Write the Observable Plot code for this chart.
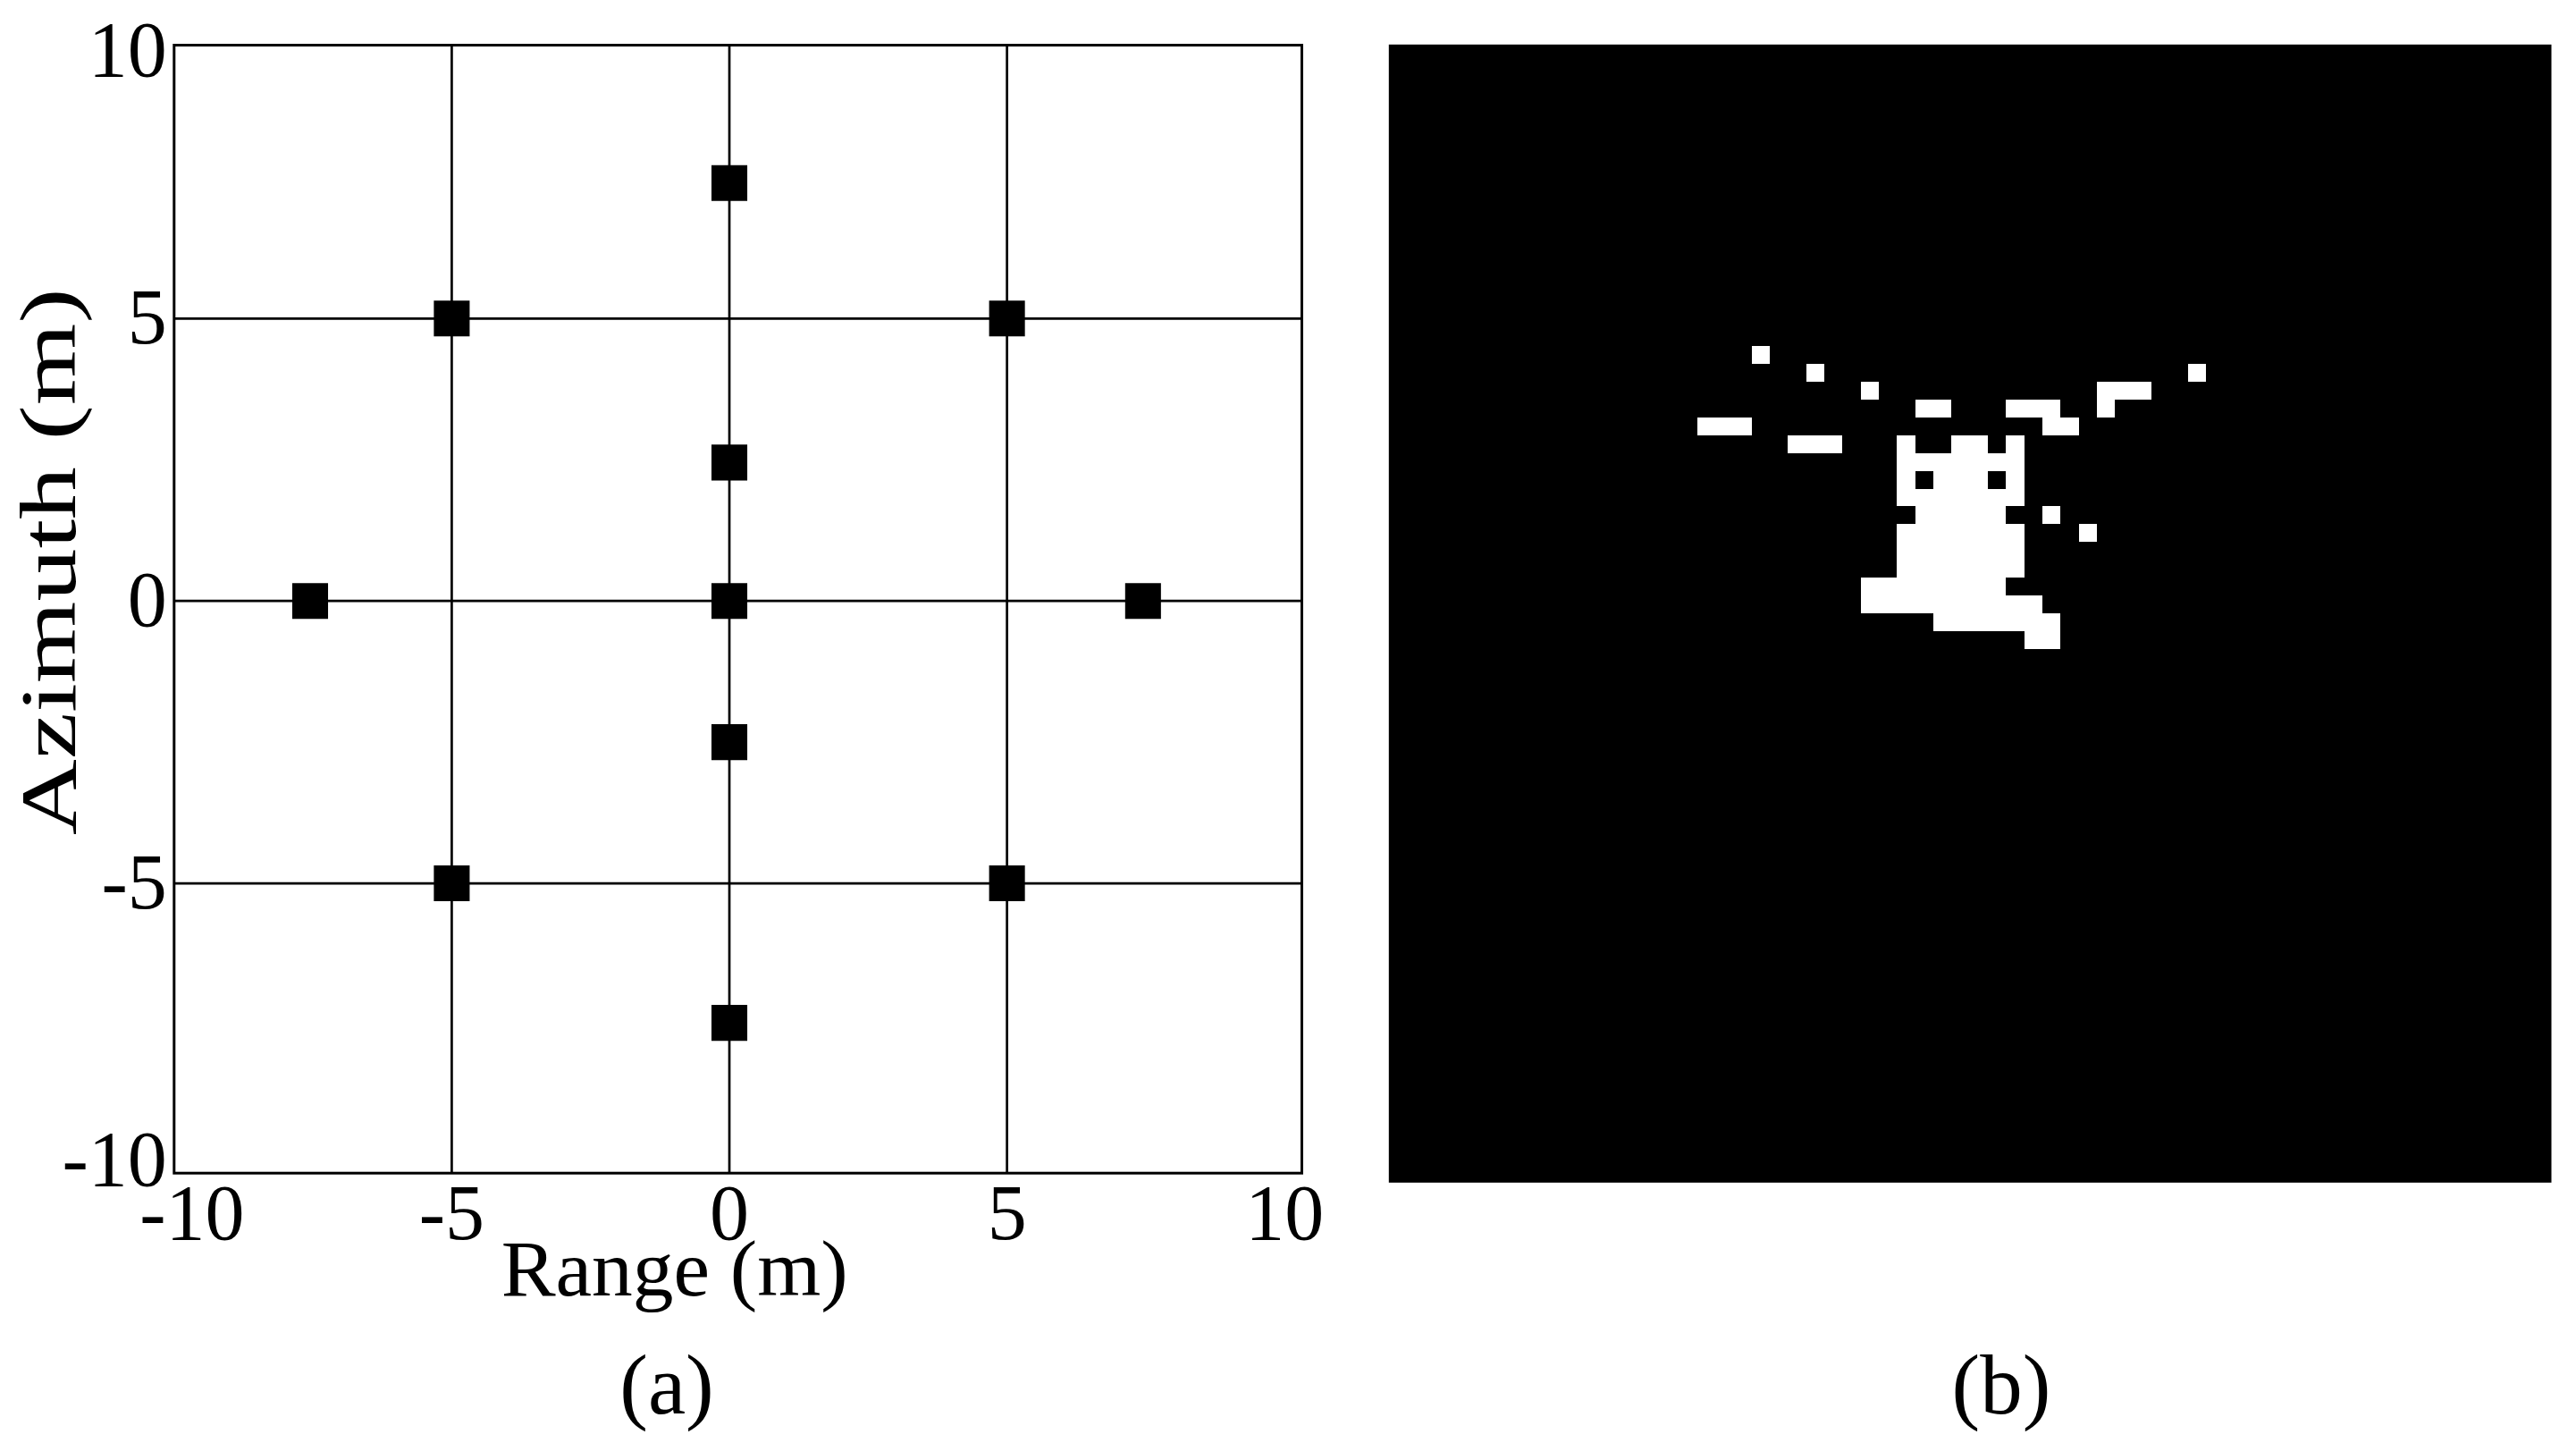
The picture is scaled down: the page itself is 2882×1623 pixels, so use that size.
<!DOCTYPE html>
<html>
<head>
<meta charset="utf-8">
<script src="https://cdn.jsdelivr.net/npm/d3@7"></script>
<script src="https://cdn.jsdelivr.net/npm/@observablehq/plot@0.6"></script>
<style>
  html, body { margin: 0; padding: 0; background: #fff; }
  #fig { position: relative; width: 2882px; height: 1623px; background: #fff; overflow: hidden; }
  .panel { position: absolute; top: 0; }
  .cap { position: absolute; width: 400px; text-align: center; font-family: "Liberation Serif", serif; font-size: 95px; line-height: 1; color: #000; }
</style>
</head>
<body>
<div id="fig">
  <div id="panelA" class="panel" style="left:0px"></div>
  <div id="panelB" class="panel" style="left:1500px"></div>
  <div class="cap" style="left:546px; top:1502px">(a)</div>
  <div class="cap" style="left:2039px; top:1502px">(b)</div>
</div>
<script>
// ---- Panel (a): target layout ----
const targetRange   = [0, -5, 5, 0, -7.55, 0, 7.45, 0, -5, 5, 0];
const targetAzimuth = [7.4, 5, 5, 2.45, 0, 0, 0, -2.5, -5, -5, -7.47];
const xTicks = [-10, -5, 0, 5, 10];
const yTicks = [-10, -5, 0, 5, 10];
const gridRange = [-5, 0, 5];
const gridAzimuth = [-5, 0, 5];
const rangeDomain = [-10, 10.31];
const azimuthDomain = [-10.13, 9.84];
const xTitle = "Range (m)";
const yTitle = "Azimuth (m)";

// ---- Panel (b): binary image, 64 x 64, white runs (row, first col, last col) ----
const imageSize = 64;
const runRow   = [17, 18, 18, 19, 19, 20, 20, 20, 21, 21, 22, 22, 22, 22, 23, 24, 24, 24, 25, 26, 26, 27, 27, 28, 29, 30, 31, 32, 33];
const runStart = [20, 23, 44, 26, 39, 29, 34, 39, 17, 36, 22, 28, 31, 34, 28, 28, 30, 34, 28, 29, 36, 28, 38, 28, 28, 26, 26, 30, 35];
const runEnd   = [20, 23, 44, 26, 41, 30, 36, 39, 19, 37, 24, 28, 32, 34, 34, 28, 32, 34, 34, 33, 36, 34, 38, 34, 34, 33, 35, 36, 36];

const targets = targetRange.map((r, i) => ({range: r, azimuth: targetAzimuth[i]}));
const runs = runRow.map((row, i) => ({row, c0: runStart[i], c1: runEnd[i] + 1}));
const fmt = d => String(d);
const font = "Liberation Serif";
const xMin = d3.min(xTicks), yMin = d3.min(yTicks), yMax = d3.max(yTicks);

const plotA = Plot.plot({
  width: 1500,
  height: 1480,
  marginLeft: 194.3,
  marginRight: 44,
  marginTop: 50,
  marginBottom: 168.3,
  style: {fontFamily: font, fontSize: "88px", maxWidth: "none", overflow: "visible", background: "white"},
  x: {domain: rangeDomain},
  y: {domain: azimuthDomain},
  marks: [
    Plot.ruleX(gridRange, {stroke: "black", strokeWidth: 2.7}),
    Plot.ruleY(gridAzimuth, {stroke: "black", strokeWidth: 2.7}),
    Plot.frame({stroke: "black", strokeWidth: 3}),
    Plot.dot(targets, {x: "range", y: "azimuth", symbol: "square", r: 22.6, fill: "black", stroke: "none"}),
    Plot.axisX(xTicks.filter(d => d !== xMin), {tickSize: 0, tickPadding: 11, tickFormat: fmt, fontSize: 88, label: null}),
    Plot.axisX([xMin], {tickSize: 0, tickPadding: 11, tickFormat: fmt, fontSize: 88, label: null, dx: 20}),
    Plot.axisY(yTicks.filter(d => d !== yMin && d !== yMax), {tickSize: 0, tickPadding: 8, tickFormat: fmt, fontSize: 88, label: null}),
    Plot.axisY([yMax], {tickSize: 0, tickPadding: 8, tickFormat: fmt, fontSize: 88, label: null, dy: 16}),
    Plot.axisY([yMin], {tickSize: 0, tickPadding: 8, tickFormat: fmt, fontSize: 88, label: null, dy: -6}),
    Plot.text([xTitle], {text: d => d, frameAnchor: "bottom", textAnchor: "middle", lineAnchor: "middle", dx: -71, dy: 109, fontSize: 88, fill: "black"}),
    Plot.text([yTitle], {text: d => d, frameAnchor: "left", textAnchor: "middle", lineAnchor: "middle", rotate: -90, dx: -139, dy: -53, fontSize: 88, fill: "black"})
  ]
});
plotA.querySelectorAll("text").forEach(t => {
  if (t.textContent === yTitle) { t.setAttribute("textLength", 612); t.setAttribute("lengthAdjust", "spacingAndGlyphs"); }
  if (t.textContent === xTitle) { t.setAttribute("textLength", 388); t.setAttribute("lengthAdjust", "spacingAndGlyphs"); }
});
document.getElementById("panelA").appendChild(plotA);

const plotB = Plot.plot({
  width: 1382,
  height: 1400,
  marginLeft: 53.3,
  marginRight: 28,
  marginTop: 49.3,
  marginBottom: 77.7,
  style: {maxWidth: "none", background: "white"},
  x: {domain: [0, imageSize], axis: null},
  y: {domain: [0, imageSize], reverse: true, axis: null},
  marks: [
    Plot.frame({fill: "black"}),
    Plot.rect(runs, {x1: "c0", x2: "c1", y1: "row", y2: d => d.row + 1, fill: "white", shapeRendering: "crispEdges"})
  ]
});
document.getElementById("panelB").appendChild(plotB);
</script>
</body>
</html>
